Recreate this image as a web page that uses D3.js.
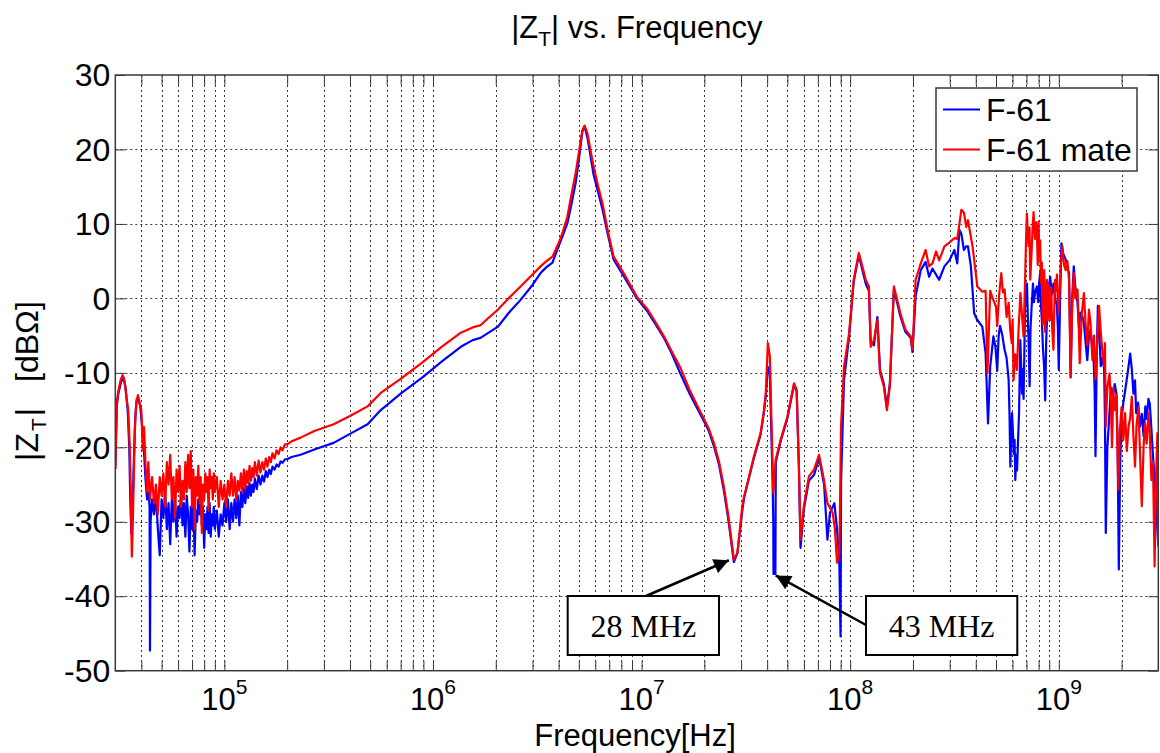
<!DOCTYPE html>
<html>
<head>
<meta charset="utf-8">
<script src="https://cdn.jsdelivr.net/npm/d3@7"></script>
<style>
  body { margin: 0; background: #fff; }
  svg text { font-family: "Liberation Sans", Arial, Helvetica, sans-serif; fill: #000; }
</style>
</head>
<body>
<svg id="chart" width="1160" height="753"></svg>
<script>
// ---- axis settings ----
const freqDomain = [3e4, 3e9];
const dbDomain = [-50, 30];
const yTickValues = [30, 20, 10, 0, -10, -20, -30, -40, -50];
const xDecadeExponents = [5, 6, 7, 8, 9];
const seriesNames = ["F-61", "F-61 mate"];
const seriesColors = ["#0000ff", "#ff0000"];

// ---- |Z_T| measurements: [frequency in Hz, magnitude in dBΩ] ----
const zF61 = [
  [3.00e4,-22.9],[3.05e4,-14.5],[3.10e4,-12.8],[3.20e4,-11.2],[3.28e4,-10.6],[3.36e4,-12],[3.44e4,-15],
  [3.50e4,-20],[3.54e4,-27],[3.58e4,-31.6],[3.63e4,-28],[3.68e4,-22],[3.74e4,-16],[3.80e4,-13.6],
  [3.87e4,-13.4],[3.95e4,-14.5],[4.03e4,-17],[4.10e4,-19.5],[4.18e4,-24],[4.26e4,-27],[4.33e4,-26],
  [4.38e4,-28],[4.40e4,-47.3],[4.43e4,-30],
  [4.5e4,-27],[4.6e4,-29],[4.7e4,-26.5],[4.8e4,-31],[4.9e4,-34.5],[5.0e4,-27],[5.1e4,-29.5],[5.2e4,-26],
  [5.3e4,-31],[5.4e4,-27.5],[5.5e4,-33],[5.6e4,-27],[5.7e4,-30],[5.8e4,-26.5],[5.9e4,-32],[6.0e4,-28],
  [6.1e4,-29.5],[6.2e4,-26],[6.3e4,-30.5],[6.4e4,-27.5],[6.5e4,-32],[6.6e4,-26.5],[6.7e4,-29],[6.8e4,-34],
  [6.9e4,-28],[7.0e4,-31],[7.1e4,-27],[7.2e4,-34.5],[7.3e4,-28.5],[7.4e4,-30],[7.5e4,-27],[7.6e4,-29],
  [7.7e4,-26.5],[7.8e4,-30.5],[7.9e4,-28],[8.0e4,-33.5],[8.1e4,-29],[8.2e4,-31],[8.3e4,-28],[8.4e4,-31.5],
  [8.5e4,-27.5],[8.6e4,-32],[8.7e4,-29],[8.8e4,-30.5],[8.9e4,-28],[9.0e4,-31],[9.2e4,-28.5],[9.4e4,-32],
  [9.6e4,-29],[9.8e4,-30.5],
  [1.00e5,-27.5],[1.02e5,-30],[1.04e5,-27],[1.06e5,-31],[1.08e5,-27.5],[1.10e5,-30],[1.12e5,-27],
  [1.14e5,-29.5],[1.16e5,-26.5],[1.18e5,-30.5],[1.20e5,-26],[1.22e5,-28],[1.24e5,-25.5],[1.26e5,-27.5],
  [1.28e5,-25.2],[1.30e5,-26.8],[1.32e5,-24.8],[1.34e5,-26.5],[1.36e5,-25],[1.38e5,-26],[1.40e5,-24.2],
  [1.43e5,-25.6],[1.46e5,-23.8],[1.49e5,-25],[1.52e5,-23.8],[1.55e5,-24.6],[1.58e5,-23.2],[1.61e5,-24],
  [1.64e5,-23],[1.67e5,-23.6],[1.70e5,-22.6],[1.74e5,-23],[1.78e5,-22.3],[1.82e5,-22.6],[1.86e5,-21.9],
  [1.90e5,-22.1],[1.95e5,-21.6],[2.00e5,-21.6],[2.10e5,-21.3],
  [2.32e5,-21.0],[2.7e5,-20.3],[3.34e5,-19.4],[4.0e5,-18.2],[4.86e5,-16.9],[5.62e5,-15.0],[7.0e5,-12.8],
  [9.0e5,-10.5],[1.1e6,-8.5],[1.36e6,-6.5],[1.55e6,-5.6],[1.69e6,-5.3],[1.85e6,-4.6],[2.05e6,-3.8],
  [2.3e6,-2.0],[2.63e6,-0.2],[3.0e6,1.8],[3.28e6,3.4],[3.5e6,4.2],[3.74e6,4.8],[4.0e6,7.0],[4.2e6,8.5],
  [4.41e6,10.1],[4.6e6,12.5],[4.83e6,15.5],[5.0e6,18.5],[5.2e6,22.4],[5.33e6,23.1],[5.5e6,21.6],
  [5.7e6,19.0],[5.89e6,16.6],[6.2e6,14.2],[6.49e6,12.0],[6.9e6,8.5],[7.35e6,5.2],[8.2e6,3.0],[9.5e6,0.0],
  [1.07e7,-1.8],[1.15e7,-3.2],[1.28e7,-5.3],[1.4e7,-7.5],[1.54e7,-10.2],[1.7e7,-12.8],[1.85e7,-14.8],
  [2.0e7,-16.6],[2.1e7,-17.8],[2.22e7,-19.8],[2.35e7,-22.3],[2.48e7,-25.8],[2.6e7,-29.5],[2.67e7,-32],
  [2.77e7,-35.4],[2.88e7,-34.2],[3.04e7,-28.5],[3.1e7,-26.8],[3.22e7,-24.9],[3.45e7,-21.5],[3.72e7,-18.3],
  [3.85e7,-15.5],[3.94e7,-13.2],[4.03e7,-9.2],[4.12e7,-10.3],[4.19e7,-18],[4.25e7,-25],[4.28e7,-30],
  [4.29e7,-37],[4.38e7,-37],[4.40e7,-22],[4.64e7,-19.2],[5.0e7,-16.1],[5.38e7,-11.6],[5.54e7,-12.5],
  [5.68e7,-22.8],[5.78e7,-33.5],[6.0e7,-28.3],[6.34e7,-24.5],[6.71e7,-23.7],[7.09e7,-21.5],[7.22e7,-22.5],
  [7.5e7,-25],[7.78e7,-32.4],[8.0e7,-28.8],[8.24e7,-28],[8.4e7,-27.5],[8.65e7,-31],[8.88e7,-36],
  [8.99e7,-45.4],[9.04e7,-24.8],[9.34e7,-11],[9.88e7,-5.2],[1.02e8,-0.5],
  [1.04e8,2.3],[1.10e8,5.8],[1.144e8,3.8],[1.187e8,2.0],[1.23e8,1.0],[1.254e8,-5.8],[1.30e8,-6.3],
  [1.35e8,-2.5],[1.39e8,-9.6],[1.45e8,-11.5],[1.50e8,-14.6],[1.55e8,-11.4],[1.62e8,1.2],[1.68e8,-0.6],
  [1.74e8,-2.4],[1.84e8,-4.5],[1.95e8,-5.3],[1.99e8,-7.2],[2.06e8,0.3],[2.18e8,3.8],[2.30e8,4.9],
  [2.39e8,2.9],[2.48e8,4.0],[2.58e8,3.2],[2.67e8,2.5],[2.83e8,4.3],[2.99e8,5.1],[3.16e8,6.5],[3.26e8,4.7],
  [3.34e8,9.2],[3.41e8,8.7],[3.51e8,6.5],[3.60e8,7.0],[3.67e8,7.0],[3.79e8,4.3],[3.93e8,-2.0],[4.07e8,-2.9],
  [4.30e8,-3.8],[4.46e8,-7.4],[4.58e8,-16.8],[4.69e8,-9.2],[4.86e8,-5.1],
  [4.97e8,-6.5],[5.07e8,-9.7],[5.15e8,-5],[5.23e8,-3.7],[5.35e8,-4.8],[5.5e8,-6.9],[5.62e8,-8.0],
  [5.75e8,-10.9],[5.81e8,-16.0],[5.86e8,-22.6],[5.92e8,-18.0],[5.97e8,-15.4],[6.03e8,-18.0],[6.08e8,-20.9],
  [6.14e8,-19.0],[6.19e8,-24.4],[6.25e8,-21.0],[6.31e8,-23.1],[6.38e8,-19.0],[6.45e8,-15.4],[6.54e8,-5.6],
  [6.6e8,-9.0],[6.66e8,-12.8],[6.72e8,-9.5],[6.78e8,-13.5],[6.85e8,-6.0],[6.91e8,1.6],[6.97e8,-1.0],
  [7.04e8,2.0],[7.12e8,-3.5],[7.18e8,-6.5],[7.25e8,-11.8],[7.32e8,-4.0],[7.4e8,-1.5],[7.52e8,2.0],
  [7.6e8,-0.5],[7.7e8,0.8],[7.85e8,1.6],[7.97e8,-0.5],[8.05e8,2.0],[8.14e8,3.4],[8.22e8,-1.0],[8.3e8,-3.0],
  [8.39e8,-6.5],[8.5e8,-9.0],[8.61e8,-13.7],[8.7e8,-6.0],[8.8e8,-1.9],[8.95e8,1.5],[9.1e8,2.9],
  [9.25e8,0.5],[9.43e8,2.0],[9.6e8,0.0],[9.8e8,-1.0],[9.9e8,-4.0],[1.0e9,-9.6],[1.015e9,0.0],[1.03e9,7.4],
  [1.05e9,6.0],[1.08e9,5.2],[1.1e9,4.0],[1.12e9,3.4],[1.13e9,-3.0],[1.14e9,-10.6],[1.16e9,0.0],
  [1.18e9,4.3],[1.2e9,1.5],[1.23e9,-0.6],[1.25e9,-4.0],[1.27e9,-1.9],[1.3e9,-2.5],[1.32e9,-3.3],
  [1.345e9,-6.0],[1.37e9,-8.3],[1.395e9,-5.0],[1.42e9,-4.2],[1.445e9,-6.5],[1.47e9,-8.3],[1.485e9,-12.0],
  [1.50e9,-21.2],[1.52e9,-8.0],[1.54e9,-1.0],[1.565e9,-5.0],[1.59e9,-9.1],[1.62e9,-8.0],[1.65e9,-9.5],
  [1.665e9,-16.0],[1.68e9,-31.5],[1.71e9,-20.0],[1.75e9,-15.4],[1.78e9,-12.0],[1.82e9,-13.0],
  [1.855e9,-11.5],[1.89e9,-12.8],[1.915e9,-20.0],[1.94e9,-36.4],[1.97e9,-22.0],[2.0e9,-16.2],
  [2.04e9,-14.0],[2.08e9,-12.4],[2.14e9,-10.0],[2.20e9,-7.4],[2.24e9,-9.5],[2.28e9,-12.8],[2.32e9,-11.0],
  [2.35e9,-15.4],[2.4e9,-14.0],[2.45e9,-17.2],[2.5e9,-15.5],[2.55e9,-18.5],[2.6e9,-14.5],[2.64e9,-16.2],
  [2.69e9,-13.5],[2.73e9,-14.1],[2.78e9,-17.5],[2.83e9,-21.2],[2.88e9,-24.0],[2.94e9,-28.8],[3.0e9,-33.3]
];

const zF61Mate = [
  [3.00e4,-22.9],[3.05e4,-14],[3.10e4,-12.5],[3.18e4,-11],[3.25e4,-10.3],[3.32e4,-11],[3.40e4,-13.5],
  [3.46e4,-15],[3.52e4,-20],[3.56e4,-26],[3.60e4,-34.7],[3.64e4,-30],[3.68e4,-24],[3.72e4,-17.7],
  [3.78e4,-14],[3.85e4,-13.0],[3.92e4,-14],[4.00e4,-15],[4.06e4,-20.4],[4.12e4,-17.3],[4.20e4,-23.1],
  [4.26e4,-26],[4.32e4,-22],[4.40e4,-27],
  [4.5e4,-24],[4.6e4,-27.5],[4.7e4,-25],[4.8e4,-29],[4.9e4,-24],[5.0e4,-26.5],[5.1e4,-23.5],[5.2e4,-28],
  [5.3e4,-22],[5.4e4,-25],[5.5e4,-21],[5.6e4,-27],[5.7e4,-24],[5.8e4,-29.5],[5.9e4,-23],[6.0e4,-26],
  [6.1e4,-22.5],[6.2e4,-28],[6.3e4,-24.5],[6.4e4,-27],[6.5e4,-22],[6.6e4,-26],[6.7e4,-21],[6.8e4,-25.5],
  [6.9e4,-20.5],[7.0e4,-28],[7.1e4,-23],[7.2e4,-31],[7.3e4,-24],[7.4e4,-26.5],[7.5e4,-22.5],[7.6e4,-27.5],
  [7.7e4,-24],[7.8e4,-31.5],[7.9e4,-25],[8.0e4,-27],[8.1e4,-23.5],[8.2e4,-26],[8.3e4,-24],[8.4e4,-28.5],
  [8.5e4,-23],[8.6e4,-25.5],[8.7e4,-24],[8.8e4,-27],[8.9e4,-23.5],[9.0e4,-26],[9.2e4,-24],[9.4e4,-28],
  [9.6e4,-24.5],[9.8e4,-27],
  [1.00e5,-25],[1.02e5,-28],[1.04e5,-24.5],[1.06e5,-26.5],[1.08e5,-23.5],[1.10e5,-26.5],[1.12e5,-24],
  [1.14e5,-27],[1.16e5,-24.5],[1.18e5,-25.8],[1.20e5,-23.5],[1.22e5,-26],[1.24e5,-23],[1.26e5,-25.5],
  [1.28e5,-23.2],[1.30e5,-24.8],[1.32e5,-22.5],[1.34e5,-24.5],[1.36e5,-22.8],[1.38e5,-24],[1.40e5,-22],
  [1.43e5,-23.8],[1.46e5,-21.8],[1.49e5,-23.4],[1.52e5,-22],[1.55e5,-23],[1.58e5,-21.5],[1.61e5,-22.6],
  [1.64e5,-21.3],[1.67e5,-22],[1.70e5,-20.8],[1.74e5,-21.5],[1.78e5,-20.4],[1.82e5,-20.9],[1.86e5,-20.0],
  [1.90e5,-20.4],[1.95e5,-19.6],[2.00e5,-19.6],[2.10e5,-19.2],
  [2.32e5,-18.7],[2.7e5,-17.8],[3.34e5,-16.9],[4.0e5,-15.8],[4.86e5,-14.5],[5.62e5,-12.7],[7.0e5,-10.8],
  [9.0e5,-8.5],[1.1e6,-6.5],[1.36e6,-4.6],[1.55e6,-3.9],[1.69e6,-3.6],[1.85e6,-2.6],[2.05e6,-1.5],
  [2.3e6,0.0],[2.63e6,1.6],[3.0e6,3.2],[3.28e6,4.3],[3.5e6,5.0],[3.74e6,5.6],[4.0e6,7.4],[4.2e6,9.0],
  [4.41e6,11.0],[4.6e6,13.8],[4.83e6,16.8],[5.0e6,19.5],[5.2e6,22.6],[5.33e6,23.2],[5.5e6,22.2],
  [5.7e6,19.8],[5.89e6,17.7],[6.2e6,15.0],[6.49e6,12.8],[6.9e6,9.0],[7.35e6,5.6],[8.2e6,3.4],[9.5e6,0.2],
  [1.07e7,-1.5],[1.15e7,-2.9],[1.28e7,-5.1],[1.4e7,-7.2],[1.54e7,-9.4],[1.7e7,-12.3],[1.85e7,-14.4],
  [2.0e7,-16.3],[2.1e7,-17.5],[2.22e7,-19.4],[2.35e7,-21.9],[2.48e7,-25.3],[2.6e7,-29],[2.67e7,-31.5],
  [2.77e7,-35.1],[2.88e7,-34.2],[3.04e7,-27.9],[3.1e7,-26.6],[3.22e7,-24.8],[3.45e7,-21.3],[3.72e7,-18.1],
  [3.85e7,-15.3],[3.94e7,-12.7],[4.03e7,-6.0],[4.12e7,-7.8],[4.19e7,-15.9],[4.28e7,-26.2],[4.39e7,-21.7],
  [4.64e7,-19.0],[5.0e7,-15.9],[5.38e7,-11.4],[5.54e7,-12.3],[5.68e7,-22.6],[5.78e7,-32.4],[6.0e7,-27.9],
  [6.34e7,-23.9],[6.71e7,-23.0],[7.09e7,-21.0],[7.22e7,-22.1],[7.5e7,-24.5],[7.78e7,-27.5],[8.24e7,-28.8],
  [8.45e7,-31],[8.65e7,-35.5],[8.88e7,-34.2],[9.04e7,-17.2],[9.34e7,-9.2],[9.88e7,-4.7],[1.02e8,-0.2],
  [1.04e8,2.5],[1.10e8,6.1],[1.144e8,4.3],[1.187e8,2.5],[1.23e8,1.6],[1.254e8,-6.5],[1.30e8,-5.6],
  [1.35e8,-2.9],[1.39e8,-10.0],[1.45e8,-11.8],[1.50e8,-15.0],[1.55e8,-11.8],[1.62e8,1.6],[1.68e8,-0.2],
  [1.74e8,-2.0],[1.84e8,-4.2],[1.95e8,-5.1],[1.99e8,-6.9],[2.06e8,2.5],[2.18e8,4.7],[2.30e8,6.5],
  [2.39e8,4.3],[2.48e8,4.7],[2.58e8,6.3],[2.67e8,5.1],[2.83e8,7.0],[2.99e8,7.5],[3.16e8,8.1],[3.26e8,8.0],
  [3.34e8,10.0],[3.41e8,11.9],[3.51e8,11.5],[3.60e8,9.6],[3.67e8,10.5],[3.86e8,7.0],[4.07e8,1.6],
  [4.30e8,0.9],[4.46e8,1.0],[4.55e8,-10.0],[4.69e8,1.0],[4.81e8,0.1],[5.0e8,-1.1],[5.07e8,-3.7],
  [5.18e8,0.5],[5.3e8,3.4],[5.4e8,0.8],[5.5e8,1.2],[5.62e8,-2.5],[5.75e8,-0.6],[5.85e8,-4.2],[5.95e8,-6.0],
  [6.01e8,-2.8],[6.07e8,-11.0],[6.18e8,-7.5],[6.3e8,-9.6],[6.42e8,-4.0],[6.55e8,0.7],[6.66e8,-2.2],
  [6.78e8,-5.1],[6.9e8,2.9],[6.97e8,8.0],[7.03e8,11.4],[7.1e8,9.0],[7.17e8,7.0],[7.24e8,9.5],[7.3e8,2.5],
  [7.4e8,6.0],[7.5e8,9.8],[7.57e8,11.6],[7.64e8,9.4],[7.7e8,8.0],[7.78e8,10.2],[7.85e8,9.2],[7.93e8,4.5],
  [8.0e8,10.3],[8.07e8,5.5],[8.14e8,7.8],[8.22e8,2.0],[8.3e8,4.8],[8.38e8,-3.5],[8.45e8,-1.1],[8.52e8,3.8],
  [8.6e8,-4.5],[8.68e8,0.5],[8.77e8,2.5],[8.85e8,-3.0],[8.93e8,1.8],[9.02e8,-1.0],[9.1e8,-2.9],[9.2e8,1.5],
  [9.3e8,-4.0],[9.43e8,-6.9],[9.52e8,-1.5],[9.6e8,2.5],[9.7e8,1.0],[9.8e8,3.2],[9.9e8,-0.5],[1.0e9,-1.9],
  [1.02e9,4.0],[1.04e9,7.0],[1.06e9,4.5],[1.08e9,3.8],[1.1e9,5.0],[1.12e9,2.5],[1.13e9,-4.0],[1.14e9,-10.6],
  [1.16e9,-1.0],[1.18e9,3.4],[1.2e9,0.0],[1.23e9,1.2],[1.245e9,-3.0],[1.26e9,-8.7],[1.29e9,-2.0],
  [1.32e9,0.7],[1.345e9,-3.5],[1.37e9,-6.3],[1.395e9,-1.5],[1.42e9,-3.3],[1.45e9,-8.3],[1.475e9,-5.0],
  [1.50e9,-10.9],[1.53e9,-5.5],[1.56e9,-1.0],[1.59e9,-4.5],[1.62e9,-7.3],[1.65e9,-9.1],[1.665e9,-6.0],
  [1.68e9,-17.2],[1.71e9,-12.0],[1.75e9,-10.1],[1.775e9,-13.5],[1.80e9,-20.0],[1.825e9,-12.0],
  [1.85e9,-15.0],[1.89e9,-13.0],[1.93e9,-25.7],[1.96e9,-18.0],[2.0e9,-14.6],[2.04e9,-19.0],[2.08e9,-15.4],
  [2.12e9,-20.5],[2.16e9,-17.2],[2.2e9,-16.0],[2.24e9,-13.2],[2.28e9,-18.5],[2.32e9,-22.6],[2.36e9,-17.0],
  [2.41e9,-14.6],[2.45e9,-20.5],[2.50e9,-27.9],[2.55e9,-20.0],[2.59e9,-16.8],[2.64e9,-19.5],[2.69e9,-15.4],
  [2.73e9,-18.0],[2.78e9,-24.4],[2.83e9,-22.0],[2.88e9,-36.0],[2.92e9,-25.0],[2.97e9,-18.1],[3.0e9,-33.3]
];

// resonance call-outs: label, frequency of the dip, depth of the dip
const calloutLabels = ["28 MHz", "43 MHz"];
const calloutFreqs = [2.8e7, 4.3e7];
const calloutDb = [-35.3, -37];

// ---- layout ----
const plot = { left: 115.3, right: 1158.3, top: 75, bottom: 670.7 };
const svg = d3.select("#chart");

const x = d3.scaleLog().domain(freqDomain).range([plot.left, plot.right]);
const y = d3.scaleLinear().domain(dbDomain).range([plot.bottom, plot.top]);

// all decade and sub-decade tick positions inside the frequency range
const xTickValues = [];
for (let e = 4; e <= 9; e++) {
  for (let m = 1; m <= 9; m++) {
    const v = m * Math.pow(10, e);
    if (v > freqDomain[0] * 1.001 && v < freqDomain[1] * 0.999) xTickValues.push(v);
  }
}

const defs = svg.append("defs");
defs.append("clipPath").attr("id", "plotClip")
  .append("rect")
  .attr("x", plot.left).attr("y", plot.top)
  .attr("width", plot.right - plot.left).attr("height", plot.bottom - plot.top);

// ---- grid ----
const grid = svg.append("g").attr("stroke", "#3a3a3a").attr("stroke-width", 1)
  .attr("stroke-dasharray", "2,3");
grid.selectAll("line.vx").data(xTickValues).join("line")
  .attr("x1", d => Math.round(x(d)) + 0.5).attr("x2", d => Math.round(x(d)) + 0.5)
  .attr("y1", plot.top).attr("y2", plot.bottom);
grid.selectAll("line.hy").data(yTickValues.filter(v => v > dbDomain[0] && v < dbDomain[1])).join("line")
  .attr("y1", d => Math.round(y(d)) + 0.5).attr("y2", d => Math.round(y(d)) + 0.5)
  .attr("x1", plot.left).attr("x2", plot.right);

// ---- ticks on all four sides, pointing inward ----
function styleAxis(g) {
  g.select(".domain").remove();
  g.selectAll(".tick line").attr("stroke", "#3a3a3a").attr("stroke-width", 1);
  g.selectAll(".tick text").remove();
}
svg.append("g").attr("transform", `translate(0,${plot.bottom})`)
  .call(d3.axisBottom(x).tickValues(xTickValues).tickSizeInner(-10).tickSizeOuter(0)).call(styleAxis);
svg.append("g").attr("transform", `translate(0,${plot.top})`)
  .call(d3.axisTop(x).tickValues(xTickValues).tickSizeInner(-10).tickSizeOuter(0)).call(styleAxis);
svg.append("g").attr("transform", `translate(${plot.left},0)`)
  .call(d3.axisLeft(y).tickValues(yTickValues).tickSizeInner(-10).tickSizeOuter(0)).call(styleAxis);
svg.append("g").attr("transform", `translate(${plot.right},0)`)
  .call(d3.axisRight(y).tickValues(yTickValues).tickSizeInner(-10).tickSizeOuter(0)).call(styleAxis);

// ---- curves (F-61 mate drawn over F-61) ----
const line = d3.line().x(d => x(d[0])).y(d => y(d[1]));
const curves = svg.append("g").attr("clip-path", "url(#plotClip)");
[zF61, zF61Mate].forEach((series, i) => {
  curves.append("path").datum(series)
    .attr("fill", "none")
    .attr("stroke", seriesColors[i])
    .attr("stroke-width", 2.2)
    .attr("stroke-linejoin", "round")
    .attr("d", line);
});

// ---- axes box ----
svg.append("rect")
  .attr("x", plot.left).attr("y", plot.top)
  .attr("width", plot.right - plot.left).attr("height", plot.bottom - plot.top)
  .attr("fill", "none").attr("stroke", "#3a3a3a").attr("stroke-width", 1.5);

// ---- tick labels ----
svg.append("g").selectAll("text").data(yTickValues).join("text")
  .attr("x", plot.left - 5).attr("y", d => y(d)).attr("dy", "0.35em")
  .attr("text-anchor", "end").attr("font-size", 32)
  .text(d => d);

const xLabels = svg.append("g").selectAll("text").data(xDecadeExponents).join("text")
  .attr("x", d => x(Math.pow(10, d))).attr("y", 710)
  .attr("text-anchor", "middle").attr("font-size", 31);
xLabels.append("tspan").text("10");
xLabels.append("tspan").attr("font-size", 21).attr("dy", -16).text(d => d);

// ---- titles ----
const title = svg.append("text")
  .attr("x", (plot.left + plot.right) / 2).attr("y", 38)
  .attr("text-anchor", "middle").attr("font-size", 31);
title.append("tspan").text("|Z");
title.append("tspan").attr("font-size", 21).attr("dy", 8).text("T");
title.append("tspan").attr("dy", -8).text("| vs. Frequency");

svg.append("text")
  .attr("x", 635).attr("y", 746)
  .attr("text-anchor", "middle").attr("font-size", 31)
  .text("Frequency[Hz]");

const yLabel = svg.append("text")
  .attr("transform", `translate(38,381) rotate(-90)`)
  .attr("text-anchor", "middle").attr("font-size", 32);
yLabel.append("tspan").text("|Z");
yLabel.append("tspan").attr("font-size", 21).attr("dx", 2).attr("dy", 8).text("T");
yLabel.append("tspan").attr("dx", 2).attr("dy", -8).text("|");
yLabel.append("tspan").attr("dx", 26).text("[dBΩ]");

// ---- legend ----
const legend = svg.append("g").attr("transform", "translate(936,88)");
legend.append("rect").attr("width", 201).attr("height", 83)
  .attr("fill", "#fff").attr("stroke", "#3a3a3a").attr("stroke-width", 1.5);
seriesNames.forEach((name, i) => {
  const cy = 21.5 + i * 40;
  legend.append("line").attr("x1", 7).attr("x2", 44).attr("y1", cy).attr("y2", cy)
    .attr("stroke", seriesColors[i]).attr("stroke-width", 2);
  legend.append("text").attr("x", 50).attr("y", cy + 11.5).attr("font-size", 32).text(name);
});

// ---- call-outs with arrows ----
defs.append("marker")
  .attr("id", "arrowHead").attr("viewBox", "0 0 10 10")
  .attr("refX", 10).attr("refY", 5)
  .attr("markerWidth", 7).attr("markerHeight", 6).attr("orient", "auto")
  .append("path").attr("d", "M0,0 L10,5 L0,10 Z").attr("fill", "#000");

// box geometry and arrow attachment relative to the dip it points at
const calloutBoxes = [
  { bx: 567.7, by: 596, bw: 151.3, bh: 59, ax: 646, ay: 596, tipDx: -6, tipDy: -1 },
  { bx: 866, by: 596, bw: 151.3, bh: 59, ax: 866, ay: 625, tipDx: 2, tipDy: 1.5 }
];
calloutLabels.forEach((label, i) => {
  const b = calloutBoxes[i];
  const tx = x(calloutFreqs[i]) + b.tipDx;
  const ty = y(calloutDb[i]) + b.tipDy;
  svg.append("line")
    .attr("x1", b.ax).attr("y1", b.ay).attr("x2", tx).attr("y2", ty)
    .attr("stroke", "#000").attr("stroke-width", 2.5)
    .attr("marker-end", "url(#arrowHead)");
  svg.append("rect").attr("x", b.bx).attr("y", b.by).attr("width", b.bw).attr("height", b.bh)
    .attr("fill", "#fff").attr("stroke", "#000").attr("stroke-width", 2);
  svg.append("text")
    .attr("x", b.bx + b.bw / 2).attr("y", b.by + 41)
    .attr("text-anchor", "middle")
    .style("font-family", "'Liberation Serif', 'Times New Roman', serif")
    .attr("font-size", 32)
    .text(label);
});
</script>
</body>
</html>
